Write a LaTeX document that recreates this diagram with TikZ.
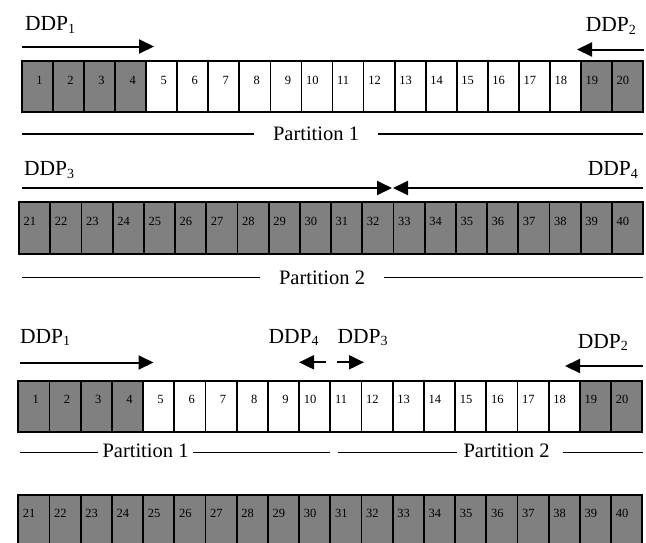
\documentclass[tikz,border=0pt]{standalone}
\usepackage{fontspec}
\setmainfont{Liberation Serif}
\usetikzlibrary{arrows.meta}
\definecolor{cellgray}{HTML}{808080}
\newcommand\ddpsub[1]{\raisebox{-2.3pt}{\fontsize{14}{14}\selectfont #1}}
\begin{document}
\begin{tikzpicture}[x=1pt,y=-1pt,
  cellbox/.style 2 args={draw=black, line width=1.8pt, rectangle, inner sep=0pt, outer sep=0pt,
    anchor=north west, minimum width=#1, minimum height=#2},
  numtxt/.style={font=\fontsize{12.5}{14}\selectfont, inner sep=0pt},
  ddptxt/.style={font=\fontsize{21.5}{24}\selectfont, inner sep=0pt},
  ptxt/.style={font=\fontsize{20.5}{24}\selectfont, inner ysep=0pt, anchor=base},
  arr/.style={line width=2pt, -{Triangle[length=15pt,width=14pt]}},
  pline/.style={line width=1.3pt}]
\useasboundingbox (0,0) rectangle (646,542);
\clip (0,0) rectangle (646,542);

% ---------- Row 1 ----------
\foreach \i in {1,...,20}{
  \pgfmathsetmacro\xl{22+(\i-1)*31.05}
  \ifnum\i<5 \def\fc{cellgray}\else\ifnum\i>18 \def\fc{cellgray}\else\def\fc{white}\fi\fi
  \node[cellbox={31.05pt}{51pt}, fill=\fc] (a\i) at (\xl,61) {};
  \ifnum\i<10
    \node[numtxt] (an\i) at ([xshift=17.5pt, yshift=-19pt]a\i.north west) {\i};
  \else
    \node[numtxt, anchor=west] (an\i) at ([xshift=4.5pt, yshift=-19pt]a\i.north west) {\i};
  \fi
}
\node[ddptxt, anchor=base west] (t1) at (25,30.7) {DDP\ddpsub{1}};
\node[ddptxt, anchor=base east] (t2) at (636,31.7) {DDP\ddpsub{2}};
\coordinate (s1) at (22,46.5);  \coordinate (e1) at (154,46.5);
\coordinate (s2) at (644,49.5); \coordinate (e2) at (577,49.5);
\draw[arr] (s1) -- (e1);
\draw[arr] (s2) -- (e2);
\node[ptxt, inner xsep=19pt] (p1) at (316,140.7) {Partition 1};
\coordinate (p1l) at (22,134); \coordinate (p1r) at (643,134);
\draw[pline] (p1l) -- (p1.west |- p1l);
\draw[pline] (p1.east |- p1r) -- (p1r);

% ---------- Row 2 ----------
\foreach \i in {1,...,20}{
  \pgfmathsetmacro\xl{19+(\i-1)*31.2}
  \pgfmathtruncatemacro\lbl{20+\i}
  \node[cellbox={31.2pt}{52pt}, fill=cellgray] (b\i) at (\xl,202) {};
  \node[numtxt, anchor=west] (bn\i) at ([xshift=4.5pt, yshift=-19.5pt]b\i.north west) {\lbl};
}
\node[ddptxt, anchor=base west] (t3) at (24,175.7) {DDP\ddpsub{3}};
\node[ddptxt, anchor=base east] (t4) at (638,175.7) {DDP\ddpsub{4}};
\coordinate (s3) at (22,188);  \coordinate (e3) at (392,188);
\coordinate (s4) at (643,188); \coordinate (e4) at (393,188);
\draw[arr] (s3) -- (e3);
\draw[arr] (s4) -- (e4);
\node[ptxt, inner xsep=19pt] (p2) at (322,284) {Partition 2};
\coordinate (p2l) at (22,277.3); \coordinate (p2r) at (643,277.3);
\draw[pline] (p2l) -- (p2.west |- p2l);
\draw[pline] (p2.east |- p2r) -- (p2r);

% ---------- Row 3 ----------
\foreach \i in {1,...,20}{
  \pgfmathsetmacro\xl{18.3+(\i-1)*31.2}
  \ifnum\i<5 \def\fc{cellgray}\else\ifnum\i>18 \def\fc{cellgray}\else\def\fc{white}\fi\fi
  \node[cellbox={31.2pt}{51.3pt}, fill=\fc] (c\i) at (\xl,380.7) {};
  \ifnum\i<10
    \node[numtxt] (cn\i) at ([xshift=17.5pt, yshift=-19pt]c\i.north west) {\i};
  \else
    \node[numtxt, anchor=west] (cn\i) at ([xshift=4.5pt, yshift=-19pt]c\i.north west) {\i};
  \fi
}
\node[ddptxt, anchor=base west] (t5) at (20,343.3) {DDP\ddpsub{1}};
\node[ddptxt, anchor=base east] (t6) at (628,348.3) {DDP\ddpsub{2}};
\node[ddptxt, anchor=base west] (t7) at (268.3,343.3) {DDP\ddpsub{4}};
\node[ddptxt, anchor=base west] (t8) at (337.3,343.3) {DDP\ddpsub{3}};
\coordinate (s5) at (20,362.5);   \coordinate (e5) at (153.5,362.5);
\coordinate (s6) at (643,366);    \coordinate (e6) at (565,366);
\coordinate (s7) at (326,362.3);  \coordinate (e7) at (299,362.3);
\coordinate (s8) at (336.7,362.3);\coordinate (e8) at (364,362.3);
\draw[arr] (s5) -- (e5);
\draw[arr] (s6) -- (e6);
\draw[arr] (s7) -- (e7);
\draw[arr] (s8) -- (e8);
\node[ptxt, inner xsep=4pt] (p3) at (145.5,457) {Partition 1};
\node[ptxt, inner xsep=6pt] (p4) at (506.5,457) {Partition 2};
\coordinate (p3l) at (20,452.5);  \coordinate (p3r) at (330,452.5);
\coordinate (p4l) at (338,452.5); \coordinate (p4r) at (643,452.5);
\draw[pline] (p3l) -- (p3.west |- p3l);
\draw[pline] (p3.east |- p3r) -- (p3r);
\draw[pline] (p4l) -- (p4.west |- p4l);
\draw[pline] ([xshift=7pt]p4.east |- p4r) -- (p4r);

% ---------- Row 4 ----------
\foreach \i in {1,...,20}{
  \pgfmathsetmacro\xl{18.3+(\i-1)*31.2}
  \pgfmathtruncatemacro\lbl{20+\i}
  \node[cellbox={31.2pt}{51pt}, fill=cellgray] (d\i) at (\xl,495) {};
  \node[numtxt, anchor=west] (dn\i) at ([xshift=4.5pt, yshift=-18.5pt]d\i.north west) {\lbl};
}
\end{tikzpicture}
\end{document}
